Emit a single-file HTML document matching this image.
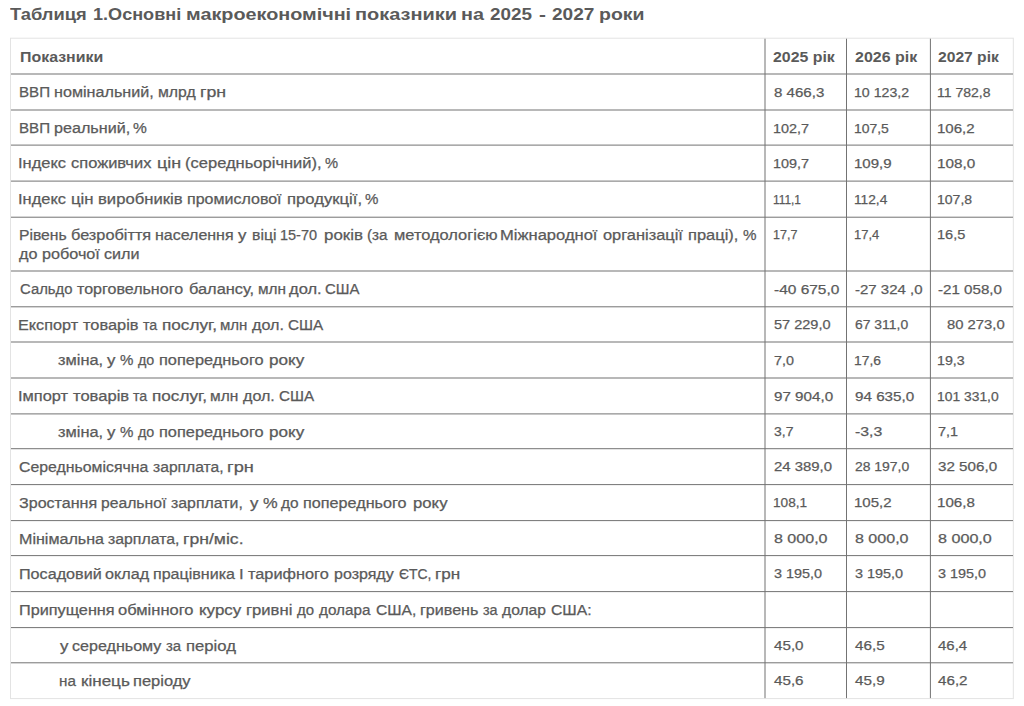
<!DOCTYPE html>
<html><head><meta charset="utf-8"><title>Таблиця 1</title><style>
html,body{margin:0;padding:0;background:#fff;}
body{width:1024px;height:706px;position:relative;overflow:hidden;font-family:"Liberation Sans",sans-serif;color:#5a5a5a;}
.t{position:absolute;white-space:pre;transform-origin:0 0;line-height:16px;font-size:14.0px;-webkit-text-stroke:0.25px #5a5a5a;}
.b{font-weight:bold;-webkit-text-stroke:0.0px #5a5a5a;}
.tt{font-size:15.6px;line-height:20px;-webkit-text-stroke:0.0px #5a5a5a;}
svg{position:absolute;left:0;top:0;}
</style></head><body>
<svg width="1024" height="706" viewBox="0 0 1024 706" shape-rendering="geometricPrecision">
<rect x="10.5" y="38.2" width="1002.8" height="660.4" fill="none" stroke="#e3e3e3" stroke-width="1"/>
<rect x="11" y="73.50" width="1002" height="1" fill="#737373"/>
<rect x="11" y="109.50" width="1002" height="1" fill="#737373"/>
<rect x="11" y="144.60" width="1002" height="1" fill="#737373"/>
<rect x="11" y="180.60" width="1002" height="1" fill="#737373"/>
<rect x="11" y="216.70" width="1002" height="1" fill="#737373"/>
<rect x="11" y="270.50" width="1002" height="1" fill="#737373"/>
<rect x="11" y="306.30" width="1002" height="1" fill="#737373"/>
<rect x="11" y="341.50" width="1002" height="1" fill="#737373"/>
<rect x="11" y="377.50" width="1002" height="1" fill="#737373"/>
<rect x="11" y="413.40" width="1002" height="1" fill="#737373"/>
<rect x="11" y="448.20" width="1002" height="1" fill="#737373"/>
<rect x="11" y="484.10" width="1002" height="1" fill="#737373"/>
<rect x="11" y="520.10" width="1002" height="1" fill="#737373"/>
<rect x="11" y="555.10" width="1002" height="1" fill="#737373"/>
<rect x="11" y="591.10" width="1002" height="1" fill="#737373"/>
<rect x="11" y="627.10" width="1002" height="1" fill="#737373"/>
<rect x="11" y="662.30" width="1002" height="1" fill="#737373"/>
<rect x="764.50" y="38.7" width="1" height="659.4" fill="#737373"/>
<rect x="846.00" y="38.7" width="1" height="659.4" fill="#737373"/>
<rect x="929.90" y="38.7" width="1" height="659.4" fill="#737373"/>
</svg>
<div class="t b tt" style="left:10.35px;top:5.19px;transform:scaleX(1.1746)">Таблиця</div>
<div class="t b tt" style="left:93.45px;top:5.19px;transform:scaleX(1.1590)">1.Основні</div>
<div class="t b tt" style="left:186.48px;top:5.19px;transform:scaleX(1.2693)">макроекономічні</div>
<div class="t b tt" style="left:355.47px;top:5.19px;transform:scaleX(1.2805)">показники</div>
<div class="t b tt" style="left:460.98px;top:5.19px;transform:scaleX(1.2688)">на</div>
<div class="t b tt" style="left:490.35px;top:5.19px;transform:scaleX(1.2108)">2025</div>
<div class="t b tt" style="left:539.35px;top:5.19px;transform:scaleX(1.3400)">-</div>
<div class="t b tt" style="left:551.85px;top:5.19px;transform:scaleX(1.2229)">2027</div>
<div class="t b tt" style="left:599.30px;top:5.19px;transform:scaleX(1.2480)">роки</div>
<div class="t b" style="left:19.85px;top:49.05px;transform:scaleX(1.1376)">Показники</div>
<div class="t b" style="left:773.35px;top:49.05px;transform:scaleX(1.1338)">2025 рік</div>
<div class="t b" style="left:854.75px;top:49.05px;transform:scaleX(1.1410)">2026 рік</div>
<div class="t b" style="left:938.45px;top:49.05px;transform:scaleX(1.1158)">2027 рік</div>
<div class="t" style="left:18.87px;top:84.35px;transform:scaleX(1.0796)">ВВП</div>
<div class="t" style="left:54.25px;top:84.35px;transform:scaleX(1.1530)">номінальний,</div>
<div class="t" style="left:158.45px;top:84.35px;transform:scaleX(1.1275)">млрд</div>
<div class="t" style="left:200.35px;top:84.35px;transform:scaleX(1.2668)">грн</div>
<div class="t" style="left:773.75px;top:84.52px;transform:scaleX(1.1160);font-size:13.5px">8 466,3</div>
<div class="t" style="left:853.70px;top:84.52px;transform:scaleX(1.0482);font-size:13.5px">10 123,2</div>
<div class="t" style="left:937.41px;top:84.52px;transform:scaleX(1.0392);font-size:13.5px">11 782,8</div>
<div class="t" style="left:18.87px;top:120.35px;transform:scaleX(1.0796)">ВВП</div>
<div class="t" style="left:53.80px;top:120.35px;transform:scaleX(1.1520)">реальний,</div>
<div class="t" style="left:133.20px;top:120.35px;transform:scaleX(1.1083)">%</div>
<div class="t" style="left:772.68px;top:120.52px;transform:scaleX(1.0658);font-size:13.5px">102,7</div>
<div class="t" style="left:853.72px;top:120.52px;transform:scaleX(1.0318);font-size:13.5px">107,5</div>
<div class="t" style="left:937.33px;top:120.52px;transform:scaleX(1.1154);font-size:13.5px">106,2</div>
<div class="t" style="left:18.37px;top:155.45px;transform:scaleX(1.1767)">Індекс</div>
<div class="t" style="left:71.05px;top:155.45px;transform:scaleX(1.1768)">споживчих</div>
<div class="t" style="left:157.25px;top:155.45px;transform:scaleX(1.2797)">цін</div>
<div class="t" style="left:185.30px;top:155.45px;transform:scaleX(1.1800)">(середньорічний),</div>
<div class="t" style="left:325.20px;top:155.45px;transform:scaleX(1.0500)">%</div>
<div class="t" style="left:772.68px;top:155.62px;transform:scaleX(1.0658);font-size:13.5px">109,7</div>
<div class="t" style="left:853.64px;top:155.62px;transform:scaleX(1.1123);font-size:13.5px">109,9</div>
<div class="t" style="left:937.32px;top:155.62px;transform:scaleX(1.1309);font-size:13.5px">108,0</div>
<div class="t" style="left:18.28px;top:191.45px;transform:scaleX(1.1742)">Індекс</div>
<div class="t" style="left:71.45px;top:191.45px;transform:scaleX(1.1970)">цін</div>
<div class="t" style="left:97.65px;top:191.45px;transform:scaleX(1.1892)">виробників</div>
<div class="t" style="left:186.85px;top:191.45px;transform:scaleX(1.1440)">промислової</div>
<div class="t" style="left:286.55px;top:191.45px;transform:scaleX(1.1905)">продукції,</div>
<div class="t" style="left:364.85px;top:191.45px;transform:scaleX(1.0750)">%</div>
<div class="t" style="left:772.87px;top:191.62px;transform:scaleX(0.8787);font-size:13.5px">111,1</div>
<div class="t" style="left:853.73px;top:191.62px;transform:scaleX(1.0163);font-size:13.5px">112,4</div>
<div class="t" style="left:937.41px;top:191.62px;transform:scaleX(1.0380);font-size:13.5px">107,8</div>
<div class="t" style="left:19.33px;top:226.75px;transform:scaleX(1.1201)">Рівень</div>
<div class="t" style="left:70.95px;top:226.75px;transform:scaleX(1.1643)">безробіття</div>
<div class="t" style="left:155.35px;top:226.75px;transform:scaleX(1.1413)">населення</div>
<div class="t" style="left:237.80px;top:226.75px;transform:scaleX(1.2000)">у</div>
<div class="t" style="left:252.15px;top:226.75px;transform:scaleX(1.1268)">віці</div>
<div class="t" style="left:280.42px;top:226.75px;transform:scaleX(1.0337)">15-70</div>
<div class="t" style="left:323.55px;top:226.75px;transform:scaleX(1.2073)">років</div>
<div class="t" style="left:367.15px;top:226.75px;transform:scaleX(1.0901)">(за</div>
<div class="t" style="left:393.55px;top:226.75px;transform:scaleX(1.1731)">методологією</div>
<div class="t" style="left:499.97px;top:226.75px;transform:scaleX(1.1813)">Міжнародної</div>
<div class="t" style="left:603.35px;top:226.75px;transform:scaleX(1.1707)">організації</div>
<div class="t" style="left:688.05px;top:226.75px;transform:scaleX(1.1754)">праці),</div>
<div class="t" style="left:742.95px;top:226.75px;transform:scaleX(1.0833)">%</div>
<div class="t" style="left:18.63px;top:246.45px;transform:scaleX(1.1565)">до</div>
<div class="t" style="left:41.61px;top:246.45px;transform:scaleX(1.1565)">робочої</div>
<div class="t" style="left:103.91px;top:246.45px;transform:scaleX(1.1537)">сили</div>
<div class="t" style="left:772.82px;top:226.92px;transform:scaleX(0.9287);font-size:13.5px">17,7</div>
<div class="t" style="left:853.79px;top:226.92px;transform:scaleX(0.9586);font-size:13.5px">17,4</div>
<div class="t" style="left:937.37px;top:226.92px;transform:scaleX(1.0781);font-size:13.5px">16,5</div>
<div class="t" style="left:19.85px;top:281.35px;transform:scaleX(1.0607)">Сальдо</div>
<div class="t" style="left:76.95px;top:281.35px;transform:scaleX(1.1456)">торговельного</div>
<div class="t" style="left:189.15px;top:281.35px;transform:scaleX(1.1686)">балансу,</div>
<div class="t" style="left:257.55px;top:281.35px;transform:scaleX(1.0970)">млн</div>
<div class="t" style="left:289.15px;top:281.35px;transform:scaleX(1.1784)">дол.</div>
<div class="t" style="left:325.15px;top:281.35px;transform:scaleX(1.0686)">США</div>
<div class="t" style="left:773.75px;top:281.52px;transform:scaleX(1.1461);font-size:13.5px">-40 675,0</div>
<div class="t" style="left:854.75px;top:281.52px;transform:scaleX(1.1097);font-size:13.5px">-27 324 ,0</div>
<div class="t" style="left:938.45px;top:281.52px;transform:scaleX(1.1214);font-size:13.5px">-21 058,0</div>
<div class="t" style="left:18.43px;top:317.15px;transform:scaleX(1.1581)">Експорт</div>
<div class="t" style="left:83.48px;top:317.15px;transform:scaleX(1.1701)">товарів</div>
<div class="t" style="left:142.78px;top:317.15px;transform:scaleX(1.0172)">та</div>
<div class="t" style="left:162.20px;top:317.15px;transform:scaleX(1.2269)">послуг,</div>
<div class="t" style="left:220.40px;top:317.15px;transform:scaleX(1.0728)">млн</div>
<div class="t" style="left:251.95px;top:317.15px;transform:scaleX(1.1523)">дол.</div>
<div class="t" style="left:287.85px;top:317.15px;transform:scaleX(1.0928)">США</div>
<div class="t" style="left:773.75px;top:317.32px;transform:scaleX(1.0761);font-size:13.5px">57 229,0</div>
<div class="t" style="left:854.75px;top:317.32px;transform:scaleX(1.0306);font-size:13.5px">67 311,0</div>
<div class="t" style="left:946.75px;top:317.32px;transform:scaleX(1.0972);font-size:13.5px">80 273,0</div>
<div class="t" style="left:58.27px;top:352.35px;transform:scaleX(1.1706)">зміна,</div>
<div class="t" style="left:106.67px;top:352.35px;transform:scaleX(1.2000)">у</div>
<div class="t" style="left:119.95px;top:352.35px;transform:scaleX(1.0750)">%</div>
<div class="t" style="left:137.65px;top:352.35px;transform:scaleX(1.0205)">до</div>
<div class="t" style="left:158.85px;top:352.35px;transform:scaleX(1.1684)">попереднього</div>
<div class="t" style="left:269.05px;top:352.35px;transform:scaleX(1.2234)">року</div>
<div class="t" style="left:773.75px;top:352.52px;transform:scaleX(1.0625);font-size:13.5px">7,0</div>
<div class="t" style="left:853.72px;top:352.52px;transform:scaleX(1.0256);font-size:13.5px">17,6</div>
<div class="t" style="left:937.40px;top:352.52px;transform:scaleX(1.0538);font-size:13.5px">19,3</div>
<div class="t" style="left:18.19px;top:388.35px;transform:scaleX(1.1709)">Імпорт</div>
<div class="t" style="left:73.24px;top:388.35px;transform:scaleX(1.1829)">товарів</div>
<div class="t" style="left:133.14px;top:388.35px;transform:scaleX(1.0172)">та</div>
<div class="t" style="left:152.20px;top:388.35px;transform:scaleX(1.2269)">послуг,</div>
<div class="t" style="left:210.40px;top:388.35px;transform:scaleX(1.1051)">млн</div>
<div class="t" style="left:242.85px;top:388.35px;transform:scaleX(1.1486)">дол.</div>
<div class="t" style="left:278.75px;top:388.35px;transform:scaleX(1.0898)">США</div>
<div class="t" style="left:773.75px;top:388.52px;transform:scaleX(1.1241);font-size:13.5px">97 904,0</div>
<div class="t" style="left:854.75px;top:388.52px;transform:scaleX(1.1260);font-size:13.5px">94 635,0</div>
<div class="t" style="left:937.42px;top:388.52px;transform:scaleX(1.0265);font-size:13.5px">101 331,0</div>
<div class="t" style="left:58.27px;top:424.25px;transform:scaleX(1.1706)">зміна,</div>
<div class="t" style="left:106.67px;top:424.25px;transform:scaleX(1.2000)">у</div>
<div class="t" style="left:119.95px;top:424.25px;transform:scaleX(1.0750)">%</div>
<div class="t" style="left:137.65px;top:424.25px;transform:scaleX(1.0205)">до</div>
<div class="t" style="left:158.85px;top:424.25px;transform:scaleX(1.1684)">попереднього</div>
<div class="t" style="left:269.05px;top:424.25px;transform:scaleX(1.2234)">року</div>
<div class="t" style="left:773.75px;top:424.42px;transform:scaleX(1.0351);font-size:13.5px">3,7</div>
<div class="t" style="left:854.75px;top:424.42px;transform:scaleX(1.1734);font-size:13.5px">-3,3</div>
<div class="t" style="left:938.45px;top:424.42px;transform:scaleX(1.0680);font-size:13.5px">7,1</div>
<div class="t" style="left:19.07px;top:459.05px;transform:scaleX(1.1312)">Середньомісячна</div>
<div class="t" style="left:152.85px;top:459.05px;transform:scaleX(1.1179)">зарплата,</div>
<div class="t" style="left:226.75px;top:459.05px;transform:scaleX(1.3000)">грн</div>
<div class="t" style="left:773.75px;top:459.22px;transform:scaleX(1.1049);font-size:13.5px">24 389,0</div>
<div class="t" style="left:854.75px;top:459.22px;transform:scaleX(1.0319);font-size:13.5px">28 197,0</div>
<div class="t" style="left:938.45px;top:459.22px;transform:scaleX(1.1241);font-size:13.5px">32 506,0</div>
<div class="t" style="left:19.22px;top:494.95px;transform:scaleX(1.1476)">Зростання</div>
<div class="t" style="left:101.02px;top:494.95px;transform:scaleX(1.1210)">реальної</div>
<div class="t" style="left:170.72px;top:494.95px;transform:scaleX(1.1337)">зарплати,</div>
<div class="t" style="left:249.91px;top:494.95px;transform:scaleX(1.2000)">у</div>
<div class="t" style="left:262.57px;top:494.95px;transform:scaleX(1.1750)">%</div>
<div class="t" style="left:280.97px;top:494.95px;transform:scaleX(1.1009)">до</div>
<div class="t" style="left:303.35px;top:494.95px;transform:scaleX(1.1562)">попереднього</div>
<div class="t" style="left:412.55px;top:494.95px;transform:scaleX(1.1957)">року</div>
<div class="t" style="left:772.74px;top:495.12px;transform:scaleX(1.0101);font-size:13.5px">108,1</div>
<div class="t" style="left:853.64px;top:495.12px;transform:scaleX(1.1123);font-size:13.5px">105,2</div>
<div class="t" style="left:937.33px;top:495.12px;transform:scaleX(1.1185);font-size:13.5px">106,8</div>
<div class="t" style="left:18.70px;top:530.95px;transform:scaleX(1.1486)">Мінімальна</div>
<div class="t" style="left:108.35px;top:530.95px;transform:scaleX(1.1307)">зарплата,</div>
<div class="t" style="left:183.05px;top:530.95px;transform:scaleX(1.2572)">грн/міс.</div>
<div class="t" style="left:773.75px;top:531.12px;transform:scaleX(1.1879);font-size:13.5px">8 000,0</div>
<div class="t" style="left:854.75px;top:531.12px;transform:scaleX(1.1879);font-size:13.5px">8 000,0</div>
<div class="t" style="left:938.45px;top:531.12px;transform:scaleX(1.1946);font-size:13.5px">8 000,0</div>
<div class="t" style="left:18.60px;top:565.95px;transform:scaleX(1.1539)">Посадовий</div>
<div class="t" style="left:104.65px;top:565.95px;transform:scaleX(1.1546)">оклад</div>
<div class="t" style="left:153.05px;top:565.95px;transform:scaleX(1.1464)">працівника</div>
<div class="t" style="left:239.45px;top:565.95px;transform:scaleX(1.2000)">I</div>
<div class="t" style="left:248.45px;top:565.95px;transform:scaleX(1.1658)">тарифного</div>
<div class="t" style="left:334.25px;top:565.95px;transform:scaleX(1.1434)">розряду</div>
<div class="t" style="left:398.75px;top:565.95px;transform:scaleX(0.9929)">ЄТС,</div>
<div class="t" style="left:435.05px;top:565.95px;transform:scaleX(1.2216)">грн</div>
<div class="t" style="left:773.75px;top:566.12px;transform:scaleX(1.0666);font-size:13.5px">3 195,0</div>
<div class="t" style="left:854.75px;top:566.12px;transform:scaleX(1.0689);font-size:13.5px">3 195,0</div>
<div class="t" style="left:938.45px;top:566.12px;transform:scaleX(1.0666);font-size:13.5px">3 195,0</div>
<div class="t" style="left:18.89px;top:601.95px;transform:scaleX(1.1600)">Припущення</div>
<div class="t" style="left:118.30px;top:601.95px;transform:scaleX(1.1784)">обмінного</div>
<div class="t" style="left:198.65px;top:601.95px;transform:scaleX(1.2116)">курсу</div>
<div class="t" style="left:246.25px;top:601.95px;transform:scaleX(1.1882)">гривні</div>
<div class="t" style="left:297.05px;top:601.95px;transform:scaleX(1.0700)">до</div>
<div class="t" style="left:318.95px;top:601.95px;transform:scaleX(1.0910)">долара</div>
<div class="t" style="left:376.10px;top:601.95px;transform:scaleX(1.1154)">США,</div>
<div class="t" style="left:420.05px;top:601.95px;transform:scaleX(1.1493)">гривень</div>
<div class="t" style="left:482.70px;top:601.95px;transform:scaleX(1.0299)">за</div>
<div class="t" style="left:502.25px;top:601.95px;transform:scaleX(1.1174)">долар</div>
<div class="t" style="left:550.80px;top:601.95px;transform:scaleX(1.1225)">США:</div>
<div class="t" style="left:59.82px;top:637.95px;transform:scaleX(1.2000)">у</div>
<div class="t" style="left:72.44px;top:637.95px;transform:scaleX(1.1489)">середньому</div>
<div class="t" style="left:166.10px;top:637.95px;transform:scaleX(1.0680)">за</div>
<div class="t" style="left:185.80px;top:637.95px;transform:scaleX(1.1906)">період</div>
<div class="t" style="left:773.75px;top:638.12px;transform:scaleX(1.1255);font-size:13.5px">45,0</div>
<div class="t" style="left:854.75px;top:638.12px;transform:scaleX(1.1294);font-size:13.5px">46,5</div>
<div class="t" style="left:938.45px;top:638.12px;transform:scaleX(1.1096);font-size:13.5px">46,4</div>
<div class="t" style="left:59.33px;top:673.15px;transform:scaleX(1.0870)">на</div>
<div class="t" style="left:80.71px;top:673.15px;transform:scaleX(1.2170)">кінець</div>
<div class="t" style="left:133.41px;top:673.15px;transform:scaleX(1.1776)">періоду</div>
<div class="t" style="left:773.75px;top:673.32px;transform:scaleX(1.1255);font-size:13.5px">45,6</div>
<div class="t" style="left:854.75px;top:673.32px;transform:scaleX(1.1294);font-size:13.5px">45,9</div>
<div class="t" style="left:938.45px;top:673.32px;transform:scaleX(1.1255);font-size:13.5px">46,2</div>
</body></html>
